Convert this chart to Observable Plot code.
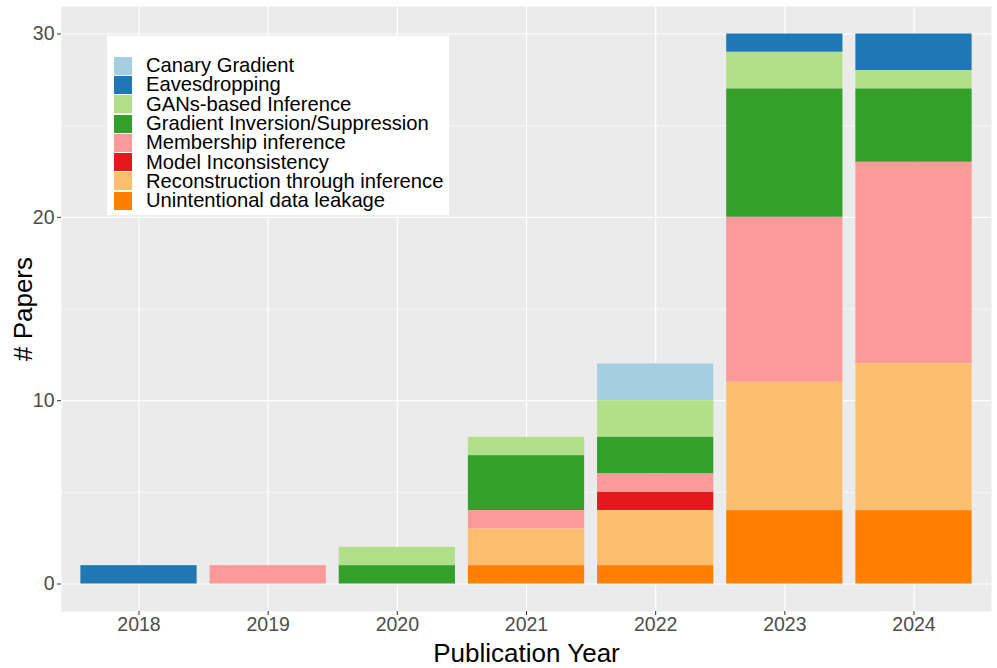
<!DOCTYPE html>
<html>
<head>
<meta charset="utf-8">
<script src="https://cdn.jsdelivr.net/npm/d3@7"></script>
<script src="https://cdn.jsdelivr.net/npm/@observablehq/plot@0.6"></script>
<style>
  html, body { margin: 0; padding: 0; background: #fff; }
  #wrap { position: relative; width: 997px; height: 668px; font-family: "Liberation Sans", Arial, sans-serif; }
  #legend { position: absolute; left: 107px; top: 36px; width: 342px; height: 179px; background: #fff; box-sizing: border-box; padding: 20px 0 0 7px; }
  .item { display: flex; align-items: center; height: 19.3px; line-height: 19px; font-size: 20.2px; color: #000; white-space: nowrap; overflow: visible; }
  .item span.txt { display: inline-block; height: 19px; line-height: 19px; }
  .key { width: 18px; height: 18px; margin-right: 14px; flex: none; }
</style>
</head>
<body>
<div id="wrap"></div>
<script>
const years = ["2018", "2019", "2020", "2021", "2022", "2023", "2024"];
const categories = [
  "Canary Gradient",
  "Eavesdropping",
  "GANs-based Inference",
  "Gradient Inversion/Suppression",
  "Membership inference",
  "Model Inconsistency",
  "Reconstruction through inference",
  "Unintentional data leakage"
];
const colors = ["#A6CEE3", "#1F78B4", "#B2DF8A", "#33A02C", "#FB9A99", "#E31A1C", "#FDBF6F", "#FF7F00"];
// counts per category, aligned with years
const canary         = [0, 0, 0, 0, 2, 0, 0];
const eavesdropping  = [1, 0, 0, 0, 0, 1, 2];
const gans           = [0, 0, 1, 1, 2, 2, 1];
const gradientInv    = [0, 0, 1, 3, 2, 7, 4];
const membership     = [0, 1, 0, 1, 1, 9, 11];
const modelIncons    = [0, 0, 0, 0, 1, 0, 0];
const reconstruction = [0, 0, 0, 2, 3, 7, 8];
const unintentional  = [0, 0, 0, 1, 1, 4, 4];
const yTicks = [0, 10, 20, 30];
const yMinor = [5, 15, 25];

const series = [canary, eavesdropping, gans, gradientInv, membership, modelIncons, reconstruction, unintentional];
const data = [];
categories.forEach((c, i) => years.forEach((y, j) => {
  if (series[i][j] > 0) data.push({year: y, category: c, count: series[i][j]});
}));
const stackOrder = categories.slice().reverse();

const chart = Plot.plot({
  width: 997,
  height: 668,
  marginLeft: 61,
  marginRight: 6,
  marginTop: 6,
  marginBottom: 57,
  style: {fontFamily: "Liberation Sans, Arial, sans-serif", background: "#fff"},
  x: {type: "band", domain: years, paddingInner: 0.1, paddingOuter: 0.15, round: false, label: null},
  y: {domain: [-1.5, 31.5], label: null},
  color: {domain: categories, range: colors},
  marks: [
    Plot.frame({fill: "#EBEBEB", stroke: null}),
    Plot.ruleY(yMinor, {stroke: "#fff", strokeWidth: 0.6}),
    Plot.ruleY(yTicks, {stroke: "#fff", strokeWidth: 1.2}),
    Plot.ruleX(years, {stroke: "#fff", strokeWidth: 1.2}),
    Plot.barY(data, {x: "year", y: "count", fill: "category", order: stackOrder, inset: 0}),
    Plot.axisY(yTicks, {tickSize: 4, tickPadding: 3, fontSize: 19.5, color: "#4D4D4D", stroke: "#333",
      label: "# Papers", labelAnchor: "center", labelArrow: "none", labelOffset: 48}),
    Plot.axisX(years, {tickSize: 4, tickPadding: 2, fontSize: 19.5, color: "#4D4D4D", stroke: "#333",
      label: "Publication Year", labelAnchor: "center", labelArrow: "none", labelOffset: 50})
  ]
});
chart.querySelectorAll('[aria-label="y-axis label"] text, [aria-label="x-axis label"] text').forEach(t => {
  t.setAttribute("font-size", "26");
  t.style.fontSize = "26px";
  t.setAttribute("fill", "#000");
});
const wrap = document.getElementById("wrap");
wrap.appendChild(chart);

const legend = document.createElement("div");
legend.id = "legend";
categories.forEach((c, i) => {
  const item = document.createElement("div");
  item.className = "item";
  const key = document.createElement("span");
  key.className = "key";
  key.style.background = colors[i];
  const label = document.createElement("span");
  label.className = "txt";
  label.textContent = c;
  item.appendChild(key);
  item.appendChild(label);
  legend.appendChild(item);
});
wrap.appendChild(legend);
</script>
</body>
</html>
